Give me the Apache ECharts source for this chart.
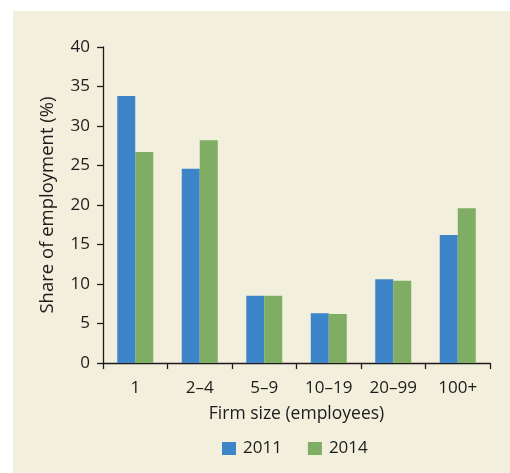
<!DOCTYPE html>
<html><head><meta charset="utf-8">
<script src="https://cdn.jsdelivr.net/npm/echarts@6/dist/echarts.min.js"></script>
<style>html,body{margin:0;padding:0;background:#fff}#c{width:510px;height:473px}</style>
</head><body><div id="c"></div>
<script>
var categories = ['1', '2\u20134', '5\u20139', '10\u201319', '20\u201399', '100+'];
var s2011 = [33.8, 24.6, 8.5, 6.3, 10.6, 16.2];
var s2014 = [26.7, 28.2, 8.5, 6.2, 10.4, 19.6];
var yTicks = [0, 5, 10, 15, 20, 25, 30, 35, 40];
var font = '"Open Sans", "Noto Sans", sans-serif';
var txt = '#1d1b1b';
var chart = echarts.init(document.getElementById('c'));
chart.setOption({
  backgroundColor: '#ffffff',
  animation: false,
  graphic: [{type: 'rect', left: 13, top: 11, shape: {width: 497, height: 462}, style: {fill: '#f2efdd'}, z: -10}],
  grid: {left: 103, right: 20, top: 47, bottom: 110},
  legend: {
    top: 440, left: 222, itemWidth: 14, itemHeight: 13, itemGap: 26,
    icon: 'rect', padding: 0,
    textStyle: {fontFamily: font, fontSize: 17, color: txt, padding: [0, 0, 0, 2]},
    data: ['2011', '2014']
  },
  xAxis: {
    type: 'category', data: categories,
    name: 'Firm size (employees)', nameLocation: 'middle', nameGap: 42,
    nameTextStyle: {fontFamily: font, fontSize: 17.5, color: txt},
    axisLine: {lineStyle: {color: txt, width: 1.3}},
    axisTick: {show: true, length: 6, lineStyle: {color: txt, width: 1.3}},
    axisLabel: {fontFamily: font, fontSize: 17, color: txt, margin: 17}
  },
  yAxis: {
    type: 'value', min: 0, max: 40, interval: 5,
    name: 'Share of employment (%)', nameLocation: 'middle', nameGap: 46,
    nameTextStyle: {fontFamily: font, fontSize: 18.5, color: txt},
    axisLine: {show: true, lineStyle: {color: txt, width: 1.3}},
    axisTick: {show: true, length: 6, lineStyle: {color: txt, width: 1.3}},
    splitLine: {show: false},
    axisLabel: {fontFamily: font, fontSize: 17, color: txt, margin: 13,
      formatter: function (v) { return yTicks.indexOf(v) >= 0 ? String(v) : ''; }}
  },
  series: [
    {name: '2011', type: 'bar', data: s2011, barWidth: 18, barGap: '0%', itemStyle: {color: '#3e84c8'}},
    {name: '2014', type: 'bar', data: s2014, barWidth: 18, barGap: '0%', itemStyle: {color: '#7fad63'}}
  ]
});
</script></body></html>
